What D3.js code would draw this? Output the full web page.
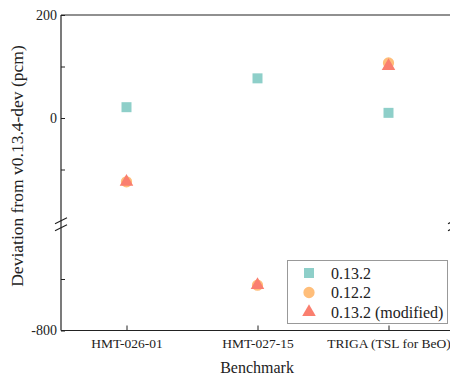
<!DOCTYPE html>
<html>
<head>
<meta charset="utf-8">
<script src="https://cdn.jsdelivr.net/npm/d3@7"></script>
<style>
  body { margin: 0; background: #fff; }
</style>
</head>
<body>
<svg id="chart" width="450" height="376"></svg>
<script>
// Benchmarks and deviations (pcm)
const benchmarks = ["HMT-026-01", "HMT-027-15", "TRIGA (TSL for BeO)"];
const v0132 = [21, 77, 10];
const v0122 = [-124, -712, 107];
const v0132mod = [-124, -712, 101];
const upperTicks = [-100, 0, 100, 200];
const lowerTicks = [-800, -700];
const labelledTicks = [200, 0, -800];

const FONT = "'Liberation Serif', 'Times New Roman', serif";
const svg = d3.select("#chart").attr("font-family", FONT);
const margin = { left: 61, top: 15, right: 454, bottom: 330.5 };

// x: point scale over the categories
const x = d3.scalePoint()
    .domain(benchmarks)
    .range([margin.left, margin.right])
    .padding(0.5);

// broken y axis: two linear pieces
const yUp = d3.scaleLinear().domain([-200, 200]).range([221, margin.top]);
const yLow = d3.scaleLinear().domain([-800, -600]).range([margin.bottom, 227.5]);
const y = v => v >= -200 ? yUp(v) : yLow(v);

const fmt = d => labelledTicks.includes(d) ? String(d) : "";

// Left axis pieces (ticks pointing inward)
[[yUp, upperTicks], [yLow, lowerTicks]].forEach(([sc, tv]) => {
    const g = svg.append("g")
        .attr("transform", `translate(${margin.left},0)`)
        .call(d3.axisLeft(sc).tickValues(tv).tickSize(-4).tickPadding(4).tickFormat(fmt))
        .attr("font-family", FONT);
    g.select(".domain").remove();
    g.selectAll("line").attr("stroke", "#222");
    g.selectAll("text").style("font-size", "14px").style("font-family", FONT).attr("fill", "#222");
});

// Bottom axis
const gx = svg.append("g")
    .attr("transform", `translate(0,${margin.bottom})`)
    .call(d3.axisBottom(x).tickSize(-5).tickPadding(8))
    .attr("font-family", FONT);
gx.select(".domain").remove();
gx.selectAll("line").attr("stroke", "#222");
gx.selectAll("text").style("font-size", "13.5px").style("font-family", FONT).attr("fill", "#222");

// Frame
const frame = svg.append("g").attr("stroke", "#222").attr("stroke-width", 1.2).attr("fill", "none");
frame.append("line").attr("x1", margin.left).attr("x2", margin.left).attr("y1", margin.top).attr("y2", margin.bottom);
frame.append("line").attr("x1", margin.right).attr("x2", margin.right).attr("y1", margin.top).attr("y2", margin.bottom);
frame.append("line").attr("x1", margin.left).attr("x2", margin.right).attr("y1", margin.top).attr("y2", margin.top);
frame.append("line").attr("x1", margin.left).attr("x2", margin.right).attr("y1", margin.bottom).attr("y2", margin.bottom);

// Break marks
const breakY = (221 + 227.5) / 2;
[margin.left, margin.right].forEach(ax => {
    [-3.5, 3.5].forEach(off => {
        svg.append("line")
            .attr("x1", ax - 6).attr("y1", breakY + off + 3)
            .attr("x2", ax + 6).attr("y2", breakY + off - 3)
            .attr("stroke", "#222").attr("stroke-width", 1.2);
    });
});

// Markers
const colors = { sq: "#8ECFC9", ci: "#FFBE7A", tr: "#FA7F6F" };
const sym = {
    sq: d3.symbol().type(d3.symbolSquare).size(100),
    ci: d3.symbol().type(d3.symbolCircle).size(100),
    tr: d3.symbol().type(d3.symbolTriangle).size(80)
};
const series = [
    { key: "sq", name: "0.13.2", values: v0132 },
    { key: "ci", name: "0.12.2", values: v0122 },
    { key: "tr", name: "0.13.2 (modified)", values: v0132mod }
];
series.forEach(s => {
    svg.append("g").selectAll("path")
        .data(s.values)
        .join("path")
        .attr("d", sym[s.key])
        .attr("fill", colors[s.key])
        .attr("transform", (d, i) => `translate(${x(benchmarks[i])},${y(d)})`);
});

// Legend
const lg = svg.append("g");
lg.append("rect").attr("x", 287.5).attr("y", 260.5).attr("width", 160).attr("height", 63)
    .attr("fill", "#fff").attr("stroke", "#999");
series.forEach((s, i) => {
    const ly = 273 + i * 19.5;
    lg.append("path").attr("d", sym[s.key]).attr("fill", colors[s.key])
        .attr("transform", `translate(309,${ly})`);
    lg.append("text").attr("x", 331).attr("y", ly).attr("dy", "0.35em")
        .style("font-size", "16px").style("font-family", FONT).attr("fill", "#222").text(s.name);
});

// Axis titles
svg.append("text")
    .attr("x", 257).attr("y", 373)
    .attr("text-anchor", "middle")
    .style("font-size", "16px").style("font-family", FONT).attr("fill", "#222")
    .text("Benchmark");
svg.append("text")
    .attr("transform", "translate(23,166) rotate(-90)")
    .attr("text-anchor", "middle")
    .style("font-size", "17.5px").style("font-family", FONT).attr("fill", "#222")
    .text("Deviation from v0.13.4-dev (pcm)");
</script>
</body>
</html>
